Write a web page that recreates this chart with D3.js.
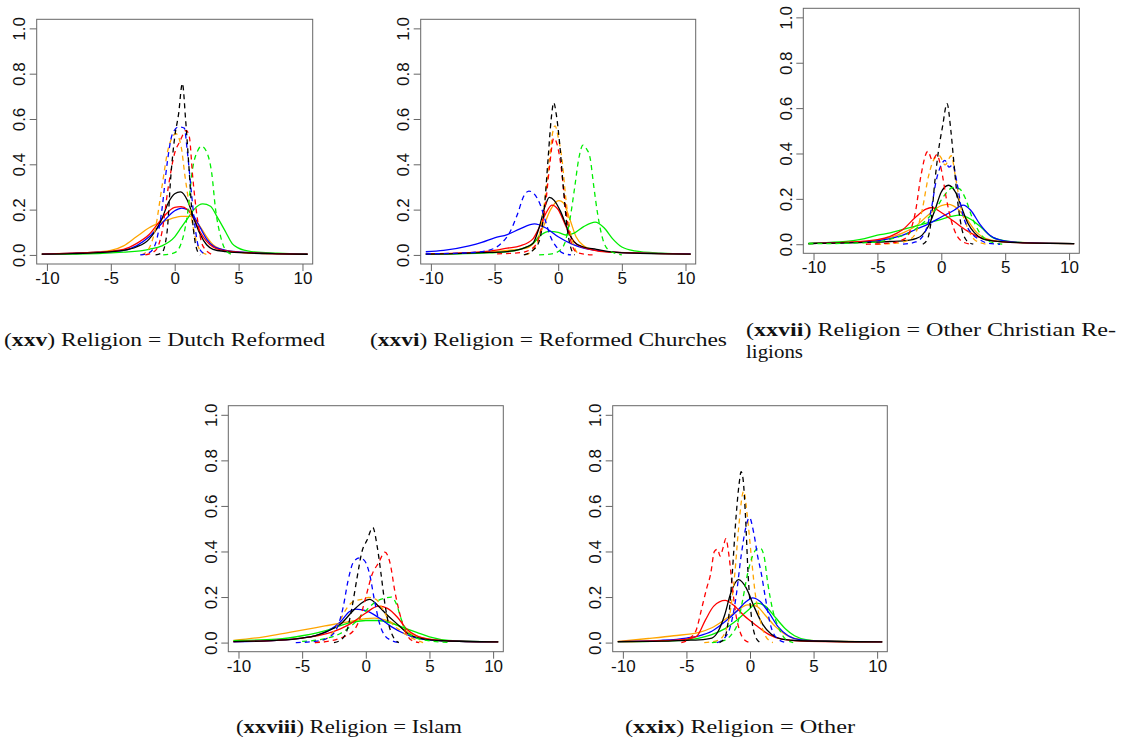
<!DOCTYPE html>
<html lang="en">
<head>
  <meta charset="UTF-8">
  <title>Density curves by religion</title>
  <script src="https://d3js.org/d3.v7.min.js"></script>
  <style>
    body { margin: 0; background: #fff; }
  </style>
</head>
<body>
  <div id="chart"></div>

  <script>
    // ---- values: [x, density] pairs per curve ----

    // (xxv) Dutch Reformed
    const dutchBlackSolid = [[-10.4,0.004],[-8,0.006],[-6,0.01],[-4,0.02],[-3,0.035],[-2,0.07],[-1,0.16],[-0.5,0.23],[0,0.27],[0.45,0.278],[1,0.24],[1.5,0.16],[2,0.09],[2.5,0.045],[3,0.025],[4,0.015],[6,0.008],[8,0.005],[10.4,0.003]];
    const dutchRedSolid = [[-10.4,0.004],[-6,0.012],[-4,0.025],[-3,0.05],[-2,0.09],[-1,0.16],[0,0.21],[0.5,0.213],[1,0.2],[1.5,0.16],[2,0.1],[2.5,0.06],[3,0.035],[4,0.018],[6,0.009],[10.4,0.003]];
    const dutchBlueSolid = [[-10.4,0.004],[-6,0.012],[-4,0.02],[-3,0.04],[-2,0.08],[-1,0.14],[0,0.195],[0.55,0.207],[1,0.2],[1.5,0.17],[2,0.12],[2.5,0.07],[3,0.04],[4,0.02],[6,0.01],[10.4,0.004]];
    const dutchOrangeSolid = [[-10.4,0.005],[-7,0.01],[-5,0.02],[-4,0.04],[-3,0.08],[-2,0.12],[-1,0.145],[0,0.165],[0.5,0.17],[1.2,0.17],[1.8,0.14],[2.5,0.08],[3,0.045],[4,0.02],[6,0.008],[10.4,0.004]];
    const dutchGreenSolid = [[-10.4,0.003],[-6,0.006],[-4,0.012],[-2,0.025],[-1,0.04],[0,0.08],[0.5,0.12],[1,0.16],[1.5,0.2],[2.2,0.225],[2.8,0.215],[3.3,0.17],[4,0.1],[4.5,0.05],[5,0.03],[6,0.015],[8,0.008],[10.4,0.004]];
    const dutchBlackDash = [[-1.5,0],[-1,0.01],[-0.6,0.1],[-0.3,0.35],[0,0.52],[0.3,0.62],[0.6,0.757],[0.85,0.6],[1.1,0.4],[1.4,0.15],[1.7,0.03],[2,0]];
    const dutchBlueDash = [[-2.7,0],[-2,0.01],[-1.5,0.05],[-1,0.2],[-0.6,0.4],[-0.2,0.53],[0.3,0.565],[0.75,0.56],[1,0.45],[1.3,0.28],[1.6,0.12],[1.9,0.03],[2.5,0]];
    const dutchRedDash = [[-2.3,0],[-1.5,0.02],[-1,0.1],[-0.5,0.3],[0,0.45],[0.4,0.5],[0.9,0.55],[1.15,0.52],[1.4,0.35],[1.8,0.15],[2.2,0.04],[3,0]];
    const dutchOrangeDash = [[-2.6,0],[-2,0.03],[-1.5,0.12],[-1,0.3],[-0.5,0.47],[0.1,0.535],[0.5,0.48],[0.8,0.35],[1.2,0.2],[1.6,0.08],[2,0.02],[2.6,0]];
    const dutchGreenDash = [[-0.9,0],[0,0.01],[0.5,0.05],[1,0.18],[1.4,0.38],[1.8,0.46],[2.1,0.48],[2.6,0.44],[2.9,0.36],[3.2,0.2],[3.6,0.08],[4,0.02],[4.6,0]];

    // (xxvi) Reformed Churches
    const reformedBlackSolid = [[-10.4,0.004],[-8,0.006],[-6,0.01],[-4,0.015],[-3,0.025],[-2,0.05],[-1.5,0.12],[-1,0.22],[-0.7,0.254],[-0.3,0.24],[0.2,0.19],[0.7,0.12],[1.2,0.06],[2,0.035],[3,0.025],[4,0.015],[6,0.008],[10.4,0.004]];
    const reformedRedSolid = [[-10.4,0.005],[-7,0.01],[-5,0.02],[-4,0.03],[-3,0.04],[-2,0.07],[-1.5,0.12],[-1,0.18],[-0.5,0.22],[0,0.2],[0.5,0.14],[1,0.08],[1.5,0.045],[2.5,0.025],[4,0.012],[10.4,0.004]];
    const reformedBlueSolid = [[-10.4,0.014],[-9,0.02],[-7,0.04],[-6,0.055],[-5,0.075],[-4,0.09],[-3,0.115],[-1.85,0.137],[-1,0.12],[0,0.08],[1,0.05],[2,0.03],[3,0.02],[5,0.01],[10.4,0.005]];
    const reformedOrangeSolid = [[-10.4,0.004],[-6,0.01],[-4,0.02],[-2.5,0.03],[-1.8,0.06],[-1.2,0.12],[-0.6,0.2],[0.05,0.24],[0.4,0.23],[0.9,0.16],[1.4,0.08],[2,0.04],[3,0.02],[5,0.01],[10.4,0.004]];
    const reformedGreenSolid = [[-10.4,0.003],[-6,0.008],[-4,0.015],[-3,0.025],[-2,0.05],[-1.3,0.09],[-0.7,0.104],[0,0.1],[0.6,0.088],[1.2,0.095],[2,0.125],[2.9,0.145],[3.6,0.12],[4.3,0.07],[5,0.035],[6,0.018],[8,0.008],[10.4,0.004]];
    const reformedBlackDash = [[-2.7,0],[-2,0.02],[-1.5,0.06],[-1.1,0.2],[-0.8,0.42],[-0.55,0.6],[-0.35,0.672],[-0.15,0.62],[0.1,0.5],[0.4,0.3],[0.7,0.12],[1,0.03],[1.3,0]];
    const reformedBlueDash = [[-10.4,0.005],[-7,0.01],[-5.5,0.02],[-4.5,0.05],[-3.8,0.1],[-3.2,0.18],[-2.7,0.26],[-2.3,0.282],[-1.9,0.27],[-1.4,0.22],[-1,0.15],[-0.6,0.08],[-0.2,0.04],[0.3,0.01],[1,0]];
    const reformedRedDash = [[-4.8,0.005],[-3,0.01],[-2,0.03],[-1.5,0.08],[-1,0.22],[-0.7,0.38],[-0.35,0.515],[-0.1,0.49],[0.2,0.4],[0.5,0.25],[0.8,0.12],[1.1,0.04],[1.5,0.01],[2.7,0]];
    const reformedOrangeDash = [[-2.6,0],[-2,0.02],[-1.5,0.08],[-1.1,0.22],[-0.7,0.42],[-0.4,0.55],[-0.25,0.57],[0,0.52],[0.3,0.42],[0.6,0.25],[0.9,0.12],[1.3,0.03],[1.7,0]];
    const reformedGreenDash = [[-1.5,0],[-0.5,0.005],[0,0.015],[0.5,0.05],[0.9,0.15],[1.3,0.3],[1.6,0.42],[1.95,0.485],[2.2,0.47],[2.5,0.43],[2.8,0.3],[3.1,0.18],[3.5,0.07],[4,0.02],[5,0]];

    // (xxvii) Other Christian Religions
    const christianBlackSolid = [[-10.4,0.003],[-6,0.008],[-4,0.012],[-3,0.015],[-2,0.025],[-1.5,0.04],[-1,0.08],[-0.5,0.15],[0,0.23],[0.57,0.26],[1.1,0.23],[1.6,0.16],[2.1,0.09],[2.6,0.05],[3.2,0.025],[4,0.015],[6,0.007],[10.4,0.003]];
    const christianRedSolid = [[-10.4,0.003],[-7,0.01],[-5,0.02],[-4,0.035],[-3,0.065],[-2,0.12],[-1.2,0.155],[-0.75,0.162],[0,0.14],[1,0.1],[2,0.06],[3,0.03],[4,0.015],[6,0.007],[10.4,0.003]];
    const christianBlueSolid = [[-10.4,0.003],[-6,0.01],[-4,0.025],[-3,0.04],[-2,0.065],[-1,0.09],[0,0.12],[1,0.15],[1.7,0.172],[2.3,0.15],[3,0.09],[3.8,0.04],[4.5,0.02],[6,0.008],[10.4,0.003]];
    const christianOrangeSolid = [[-10.4,0.003],[-6,0.01],[-4,0.03],[-3,0.05],[-2,0.08],[-1,0.13],[0,0.17],[0.6,0.176],[1.2,0.16],[2,0.11],[2.8,0.05],[3.5,0.025],[5,0.01],[10.4,0.003]];
    const christianGreenSolid = [[-10.4,0.005],[-8,0.01],[-6,0.025],[-5,0.04],[-4,0.05],[-3,0.065],[-2,0.08],[-1,0.095],[0,0.11],[1.4,0.128],[2.3,0.11],[3.2,0.07],[4,0.03],[5,0.015],[6.5,0.007],[10.4,0.003]];
    const christianBlackDash = [[-1.45,0],[-1.1,0.02],[-0.8,0.1],[-0.5,0.28],[-0.2,0.42],[0.1,0.52],[0.45,0.62],[0.75,0.5],[1,0.35],[1.3,0.18],[1.6,0.07],[2,0.015],[2.5,0]];
    const christianRedDash = [[-5.9,0],[-4,0.005],[-3,0.02],[-2.5,0.05],[-2,0.15],[-1.6,0.3],[-1.05,0.41],[-0.7,0.37],[-0.35,0.395],[0,0.33],[0.4,0.2],[0.8,0.1],[1.2,0.04],[1.7,0.01],[2.3,0]];
    const christianBlueDash = [[-3,0],[-2,0.01],[-1.3,0.05],[-0.8,0.15],[-0.4,0.28],[0,0.35],[0.28,0.37],[0.6,0.34],[0.9,0.35],[1.2,0.28],[1.6,0.15],[2,0.08],[2.5,0.04],[3,0.02],[3.6,0.005],[4.6,0]];
    const christianOrangeDash = [[-5.1,0],[-3.5,0.005],[-2.5,0.02],[-2,0.05],[-1.5,0.15],[-1,0.3],[-0.5,0.38],[-0.15,0.39],[0.3,0.35],[0.78,0.39],[1.1,0.3],[1.5,0.17],[2,0.08],[2.6,0.02],[3.5,0]];
    const christianGreenDash = [[-10.4,0.002],[-7,0.005],[-5,0.01],[-3.5,0.03],[-2.5,0.05],[-1.5,0.09],[-0.5,0.15],[0.3,0.22],[0.9,0.25],[1.4,0.245],[1.9,0.2],[2.4,0.12],[2.9,0.06],[3.5,0.02],[4.2,0.005],[4.8,0]];

    // (xxviii) Islam
    const islamBlackSolid = [[-10.4,0.004],[-7,0.01],[-5,0.02],[-4,0.03],[-3,0.05],[-2,0.08],[-1,0.14],[-0.3,0.175],[0.3,0.19],[1,0.16],[1.7,0.12],[2.5,0.08],[3.3,0.04],[4.2,0.02],[6,0.008],[10.4,0.003]];
    const islamRedSolid = [[-10.4,0.004],[-7,0.01],[-5,0.02],[-3,0.04],[-2,0.06],[-1,0.09],[0,0.13],[1,0.16],[1.7,0.15],[2.5,0.11],[3.2,0.06],[4,0.03],[5,0.015],[7,0.006],[10.4,0.003]];
    const islamBlueSolid = [[-10.4,0.003],[-7,0.01],[-5,0.02],[-4,0.03],[-3,0.05],[-2,0.09],[-1.3,0.135],[-0.8,0.147],[0,0.14],[1,0.11],[2,0.07],[3,0.04],[4,0.02],[6,0.008],[10.4,0.003]];
    const islamOrangeSolid = [[-10.4,0.01],[-8,0.025],[-6,0.045],[-4,0.065],[-3,0.075],[-2,0.085],[-1,0.095],[0,0.105],[0.7,0.107],[1.5,0.1],[2.5,0.075],[3.5,0.04],[4.5,0.02],[6,0.008],[10.4,0.003]];
    const islamGreenSolid = [[-10.4,0.008],[-7,0.015],[-5,0.03],[-3,0.055],[-2,0.075],[-1,0.09],[0,0.097],[1,0.097],[2,0.085],[3,0.065],[4,0.045],[5,0.025],[6.5,0.01],[10.4,0.003]];
    const islamBlackDash = [[-2.5,0],[-2,0.01],[-1.5,0.05],[-1.1,0.15],[-0.7,0.28],[-0.3,0.4],[0.1,0.45],[0.55,0.505],[0.9,0.42],[1.2,0.3],[1.5,0.17],[1.8,0.08],[2.2,0.02],[2.6,0]];
    const islamRedDash = [[-4,0],[-3,0.005],[-2,0.02],[-1,0.05],[-0.5,0.1],[0,0.2],[0.5,0.3],[1,0.35],[1.5,0.397],[1.9,0.35],[2.3,0.22],[2.7,0.12],[3.1,0.05],[3.6,0.01],[4.2,0]];
    const islamBlueDash = [[-5.5,0],[-4,0.005],[-3,0.02],[-2.3,0.06],[-1.8,0.15],[-1.4,0.27],[-1,0.35],[-0.5,0.372],[-0.1,0.36],[0.3,0.3],[0.7,0.18],[1.1,0.08],[1.5,0.03],[2,0.01],[2.6,0]];
    const islamOrangeDash = [[-4,0],[-3,0.02],[-2.5,0.05],[-2,0.1],[-1.5,0.15],[-1,0.18],[-0.3,0.19],[0.2,0.198],[0.8,0.19],[1.3,0.15],[1.8,0.1],[2.3,0.07],[2.8,0.05],[3.3,0.03],[4,0.01],[4.5,0]];
    const islamGreenDash = [[-5,0.005],[-3,0.02],[-2,0.04],[-1,0.08],[0,0.14],[0.8,0.18],[1.5,0.195],[2,0.2],[2.4,0.17],[2.8,0.1],[3.2,0.05],[4,0.02],[5,0.008],[6.6,0]];

    // (xxix) Other
    const otherBlackSolid = [[-10.4,0.004],[-7,0.006],[-5,0.01],[-4,0.012],[-3,0.02],[-2.5,0.05],[-2,0.12],[-1.5,0.22],[-0.9,0.276],[-0.3,0.24],[0.3,0.16],[1,0.08],[1.7,0.035],[2.5,0.015],[4,0.008],[10.4,0.003]];
    const otherRedSolid = [[-10.4,0.004],[-7,0.008],[-5,0.015],[-4.2,0.027],[-3.5,0.1],[-2.85,0.16],[-1.95,0.185],[-1.3,0.165],[-0.5,0.12],[0.5,0.075],[1.5,0.035],[2.5,0.015],[4,0.007],[10.4,0.003]];
    const otherBlueSolid = [[-10.4,0.004],[-7,0.01],[-5,0.02],[-4,0.03],[-3,0.05],[-2,0.09],[-1,0.14],[-0.3,0.18],[0.2,0.196],[0.8,0.18],[1.5,0.13],[2.2,0.07],[3,0.03],[4,0.012],[6,0.006],[10.4,0.003]];
    const otherOrangeSolid = [[-10.4,0.005],[-8,0.018],[-6,0.03],[-4,0.045],[-3,0.065],[-2,0.1],[-1,0.14],[-0.2,0.166],[0.5,0.16],[1.2,0.12],[2,0.07],[2.8,0.035],[3.5,0.018],[5,0.008],[10.4,0.003]];
    const otherGreenSolid = [[-10.4,0.003],[-7,0.006],[-5,0.012],[-4,0.02],[-3,0.035],[-2,0.06],[-1,0.1],[0,0.15],[0.5,0.173],[1.2,0.16],[2,0.11],[2.8,0.06],[3.5,0.03],[4.5,0.012],[6,0.006],[10.4,0.003]];
    const otherBlackDash = [[-2.4,0],[-2,0.02],[-1.7,0.1],[-1.4,0.3],[-1.1,0.55],[-0.85,0.7],[-0.7,0.75],[-0.55,0.72],[-0.35,0.55],[-0.15,0.3],[0.1,0.12],[0.4,0.03],[0.8,0]];
    const otherRedDash = [[-5.4,0],[-4.7,0.02],[-4.2,0.06],[-3.8,0.15],[-3.4,0.24],[-3.1,0.3],[-2.8,0.4],[-2.55,0.41],[-2.35,0.38],[-2.1,0.42],[-1.9,0.456],[-1.65,0.38],[-1.4,0.25],[-1.1,0.12],[-0.8,0.05],[-0.4,0.01],[0,0]];
    const otherBlueDash = [[-2.6,0],[-2,0.02],[-1.5,0.08],[-1.1,0.2],[-0.7,0.38],[-0.35,0.5],[-0.05,0.549],[0.3,0.48],[0.6,0.38],[0.9,0.3],[1.2,0.2],[1.6,0.08],[2.1,0.02],[2.8,0]];
    const otherOrangeDash = [[-3.6,0],[-2.5,0.01],[-2,0.04],[-1.6,0.12],[-1.2,0.3],[-0.9,0.5],[-0.5,0.665],[-0.2,0.55],[0.1,0.38],[0.4,0.22],[0.8,0.1],[1.2,0.03],[1.8,0]];
    const otherGreenDash = [[-3,0],[-2,0.01],[-1.4,0.04],[-1,0.08],[-0.6,0.18],[-0.2,0.3],[0.2,0.38],[0.5,0.41],[0.8,0.415],[1.1,0.38],[1.4,0.26],[1.8,0.14],[2.3,0.06],[2.8,0.015],[3.4,0]];

    const xTicks = [-10, -5, 0, 5, 10];
    const yTicks = [0, 0.2, 0.4, 0.6, 0.8, 1.0];
    const numerals = ["xxv", "xxvi", "xxvii", "xxviii", "xxix"];
    const captionText = [
      ["Religion = Dutch Reformed"],
      ["Religion = Reformed Churches"],
      ["Religion = Other Christian Re-", "ligions"],
      ["Religion = Islam"],
      ["Religion = Other"]
    ];

    // ---- layout ----
    const colors = { black: "#000000", red: "#ff0000", blue: "#0000ff", green: "#00ee00", orange: "#ffa500" };

    const panels = [
      { box: [36.7, 19.3, 312.7, 264], cap: [4, 346, 321], curves: [
        ["orange", dutchOrangeSolid], ["green", dutchGreenSolid], ["blue", dutchBlueSolid], ["red", dutchRedSolid], ["black", dutchBlackSolid],
        ["orange", dutchOrangeDash, 1], ["green", dutchGreenDash, 1], ["blue", dutchBlueDash, 1], ["red", dutchRedDash, 1], ["black", dutchBlackDash, 1]] },
      { box: [420.7, 19.3, 695.7, 264], cap: [370, 346, 357], curves: [
        ["orange", reformedOrangeSolid], ["green", reformedGreenSolid], ["blue", reformedBlueSolid], ["red", reformedRedSolid], ["black", reformedBlackSolid],
        ["orange", reformedOrangeDash, 1], ["green", reformedGreenDash, 1], ["blue", reformedBlueDash, 1], ["red", reformedRedDash, 1], ["black", reformedBlackDash, 1]] },
      { box: [803.3, 8.3, 1079.3, 253.3], cap: [746, 336, 370, 57], curves: [
        ["orange", christianOrangeSolid], ["green", christianGreenSolid], ["blue", christianBlueSolid], ["red", christianRedSolid], ["black", christianBlackSolid],
        ["orange", christianOrangeDash, 1], ["green", christianGreenDash, 1], ["blue", christianBlueDash, 1], ["red", christianRedDash, 1], ["black", christianBlackDash, 1]] },
      { box: [228.3, 405.7, 503.3, 651.7], cap: [236, 733, 226], curves: [
        ["orange", islamOrangeSolid], ["green", islamGreenSolid], ["blue", islamBlueSolid], ["red", islamRedSolid], ["black", islamBlackSolid],
        ["orange", islamOrangeDash, 1], ["green", islamGreenDash, 1], ["blue", islamBlueDash, 1], ["red", islamRedDash, 1], ["black", islamBlackDash, 1]] },
      { box: [612.7, 405.7, 887.3, 651.7], cap: [625, 733, 230], curves: [
        ["orange", otherOrangeSolid], ["green", otherGreenSolid], ["blue", otherBlueSolid], ["red", otherRedSolid], ["black", otherBlackSolid],
        ["orange", otherOrangeDash, 1], ["green", otherGreenDash, 1], ["blue", otherBlueDash, 1], ["red", otherRedDash, 1], ["black", otherBlackDash, 1]] }
    ];

    const svg = d3.select("#chart").append("svg")
      .attr("width", 1125)
      .attr("height", 744)
      .style("background", "#fff");

    panels.forEach((p, i) => {
      const [x0, y0, x1, y1] = p.box;
      const x = d3.scaleLinear().domain([-10.8, 10.8]).range([x0, x1]);
      const y = d3.scaleLinear().domain([-0.04, 1.04]).range([y1, y0]);

      const clipId = "clip" + i;
      svg.append("clipPath").attr("id", clipId)
        .append("rect").attr("x", x0).attr("y", y0).attr("width", x1 - x0).attr("height", y1 - y0);

      const line = d3.line()
        .x(d => x(d[0]))
        .y(d => y(d[1]))
        .curve(d3.curveMonotoneX);

      const g = svg.append("g").attr("clip-path", `url(#${clipId})`);
      g.selectAll("path")
        .data(p.curves)
        .join("path")
        .attr("d", d => line(d[1]))
        .attr("fill", "none")
        .attr("stroke", d => colors[d[0]])
        .attr("stroke-width", 1.3)
        .attr("stroke-dasharray", d => d[2] ? "5,4" : null);

      // axes (R style: outward ticks, gray box)
      const xAxis = svg.append("g")
        .attr("transform", `translate(0,${y1})`)
        .call(d3.axisBottom(x).tickValues(xTicks).tickSize(7).tickPadding(1).tickFormat(d => String(d)));
      const yAxis = svg.append("g")
        .attr("transform", `translate(${x0},0)`)
        .call(d3.axisLeft(y).tickValues(yTicks).tickSize(7).tickFormat(d3.format(".1f")));

      [xAxis, yAxis].forEach(a => {
        a.select(".domain").remove();
        a.selectAll("line").attr("stroke", "#666");
        a.selectAll("text")
          .attr("fill", "#111")
          .style("font-family", "'Liberation Sans', Arial, sans-serif")
          .style("font-size", "17px");
      });
      yAxis.selectAll("text")
        .attr("x", null)
        .attr("dy", null)
        .attr("text-anchor", "middle")
        .attr("transform", "translate(-11.5,0) rotate(-90)");

      svg.append("rect")
        .attr("x", x0).attr("y", y0)
        .attr("width", x1 - x0).attr("height", y1 - y0)
        .attr("fill", "none")
        .attr("stroke", "#666")
        .attr("stroke-width", 1);

      // caption
      const lines = captionText[i];
      lines.forEach((txt, k) => {
        const t = svg.append("text")
          .attr("x", p.cap[0])
          .attr("y", p.cap[1] + k * 22)
          .style("font-family", "'Liberation Serif', 'Times New Roman', serif")
          .style("font-size", "18px")
          .attr("fill", "#111")
          .attr("textLength", k === 0 ? p.cap[2] : p.cap[3])
          .attr("lengthAdjust", "spacingAndGlyphs");
        if (k === 0) {
          t.append("tspan").text("(");
          t.append("tspan").attr("font-weight", "bold").text(numerals[i]);
          t.append("tspan").text(") " + txt);
        } else {
          t.text(txt);
        }
      });
    });
  </script>
</body>
</html>
